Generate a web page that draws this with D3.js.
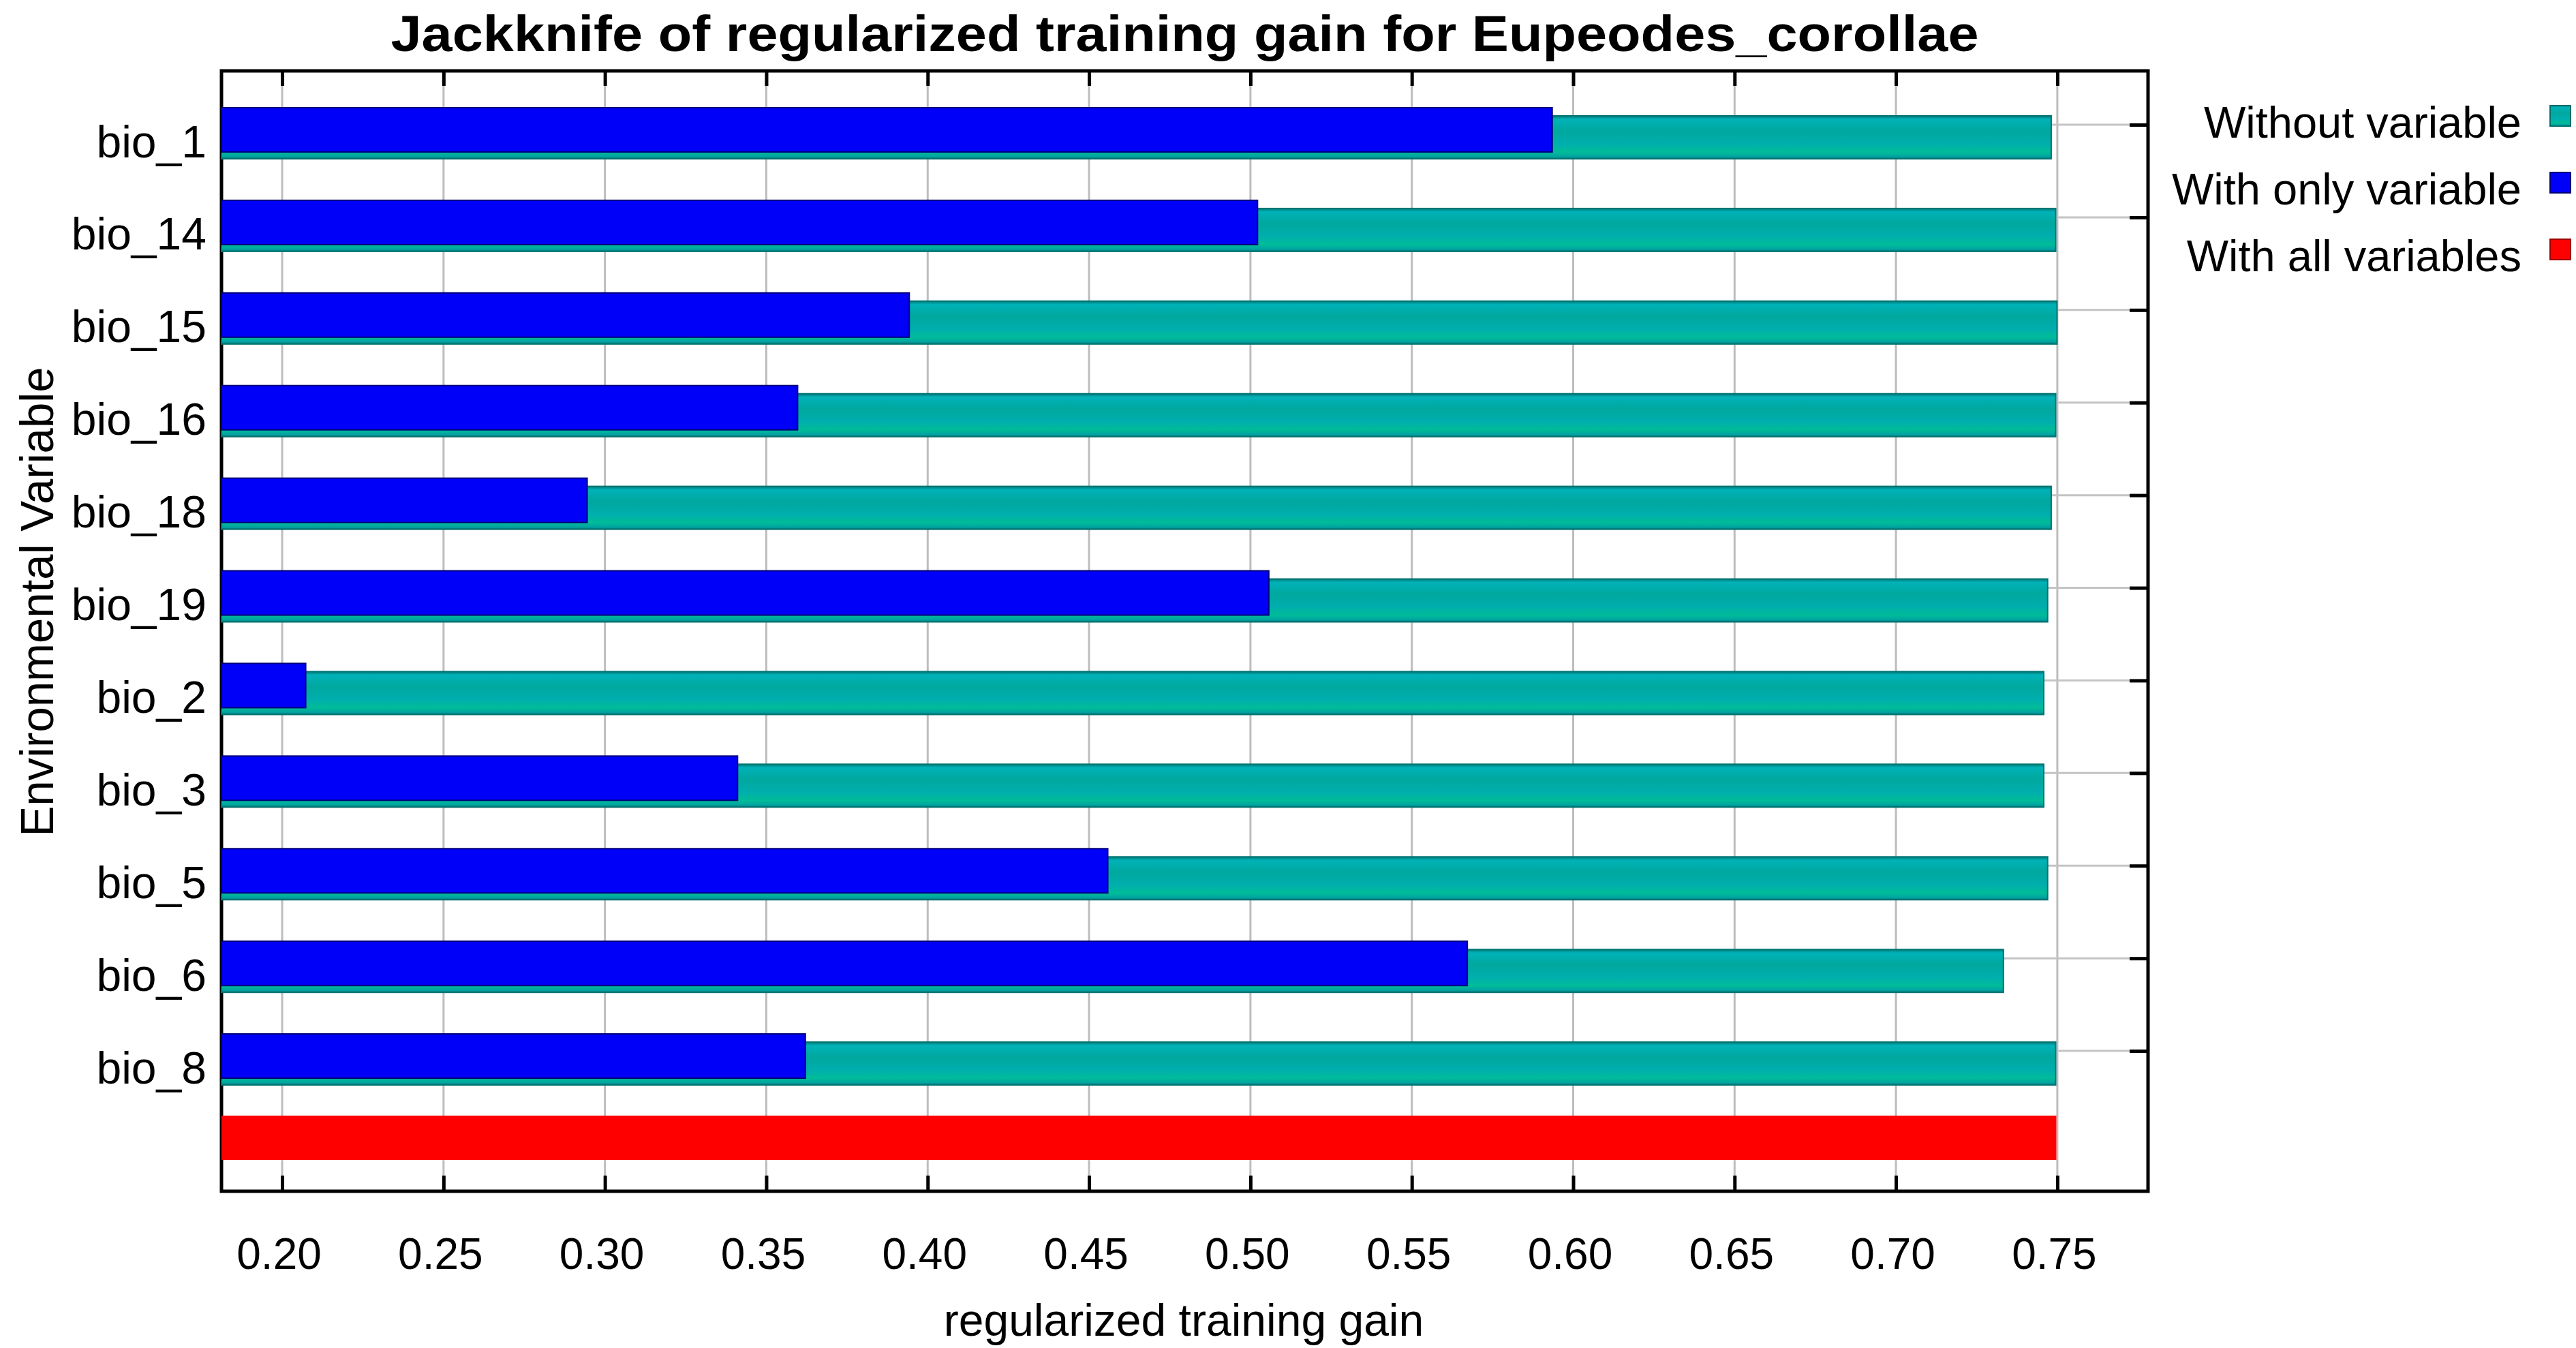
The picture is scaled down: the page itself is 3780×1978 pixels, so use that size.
<!DOCTYPE html>
<html>
<head>
<meta charset="utf-8">
<script src="https://cdn.jsdelivr.net/npm/d3@7"></script>
<style>
  body { margin: 0; background: #fff; }
  svg text { font-family: "Liberation Sans", Arial, sans-serif; fill: #000; }
</style>
</head>
<body>
<svg id="chart" width="3780" height="1978"></svg>
<script>
// values
var variables = ["bio_1", "bio_14", "bio_15", "bio_16", "bio_18", "bio_19", "bio_2", "bio_3", "bio_5", "bio_6", "bio_8"];
var withoutGain = [0.7481, 0.7495, 0.7499, 0.7495, 0.7481, 0.7470, 0.7458, 0.7458, 0.7470, 0.7333, 0.7495];
var onlyGain = [0.5935, 0.5022, 0.3943, 0.3597, 0.2945, 0.5057, 0.2073, 0.3411, 0.4558, 0.5672, 0.3621];
var allGain = 0.7497;
var xTicks = [0.20, 0.25, 0.30, 0.35, 0.40, 0.45, 0.50, 0.55, 0.60, 0.65, 0.70, 0.75];
var legendLabels = ["Without variable", "With only variable", "With all variables"];

function main() {
  var svg = d3.select("#chart");
  svg.append("rect").attr("width", 3780).attr("height", 1978).attr("fill", "#fff");

  var left = 325, right = 3152, top = 104, bottom = 1748;

  var x = d3.scaleLinear().domain([0.1812, 0.7781]).range([left, right]);
  var rows = variables.concat(["all"]);
  var y = d3.scalePoint().domain(rows).range([183, 1678]);

  var data = variables.map(function(v, i) {
    return { name: v, without: withoutGain[i], only: onlyGain[i] };
  });

  var defs = svg.append("defs");
  var grad = defs.append("linearGradient").attr("id", "teal").attr("x1", 0).attr("y1", 0).attr("x2", 0).attr("y2", 1);
  [[0, "#007a78"], [0.08, "#00b2b8"], [0.35, "#00a89e"], [0.65, "#00aeae"], [0.84, "#00bc98"], [0.95, "#00a4a2"], [1, "#007270"]].forEach(function(s) {
    grad.append("stop").attr("offset", s[0]).attr("stop-color", s[1]);
  });

  // title
  svg.append("text")
    .attr("x", (left + right) / 2).attr("y", 75)
    .attr("text-anchor", "middle")
    .style("font-size", "74px").style("font-weight", "bold")
    .attr("textLength", 2330).attr("lengthAdjust", "spacingAndGlyphs")
    .text("Jackknife of regularized training gain for Eupeodes_corollae");

  // grid lines
  svg.append("g").selectAll("line").data(xTicks).enter().append("line")
    .attr("x1", function(d) { return x(d); }).attr("x2", function(d) { return x(d); })
    .attr("y1", top).attr("y2", bottom)
    .attr("stroke", "#bdbdbd").attr("stroke-width", 3);

  svg.append("g").selectAll("line").data(variables).enter().append("line")
    .attr("x1", left).attr("x2", right)
    .attr("y1", function(d) { return y(d); }).attr("y2", function(d) { return y(d); })
    .attr("stroke", "#c4c4c4").attr("stroke-width", 3);

  // frame
  svg.append("rect")
    .attr("x", left).attr("y", top)
    .attr("width", right - left).attr("height", bottom - top)
    .attr("fill", "none").attr("stroke", "#000").attr("stroke-width", 5);

  // bars: without variable (behind), with only variable (front)
  svg.append("g").selectAll("rect").data(data).enter().append("rect")
    .attr("x", x.range()[0])
    .attr("y", function(d) { return y(d.name) - 13; })
    .attr("width", function(d) { return x(d.without) - x.range()[0]; })
    .attr("height", 63)
    .attr("fill", "url(#teal)")
    .attr("stroke", "#007472").attr("stroke-width", 2);

  svg.append("g").selectAll("rect").data(data).enter().append("rect")
    .attr("x", x.range()[0])
    .attr("y", function(d) { return y(d.name) - 25; })
    .attr("width", function(d) { return x(d.only) - x.range()[0]; })
    .attr("height", 65)
    .attr("fill", "#0000f8")
    .attr("stroke", "#00007a").attr("stroke-width", 2);

  svg.append("rect")
    .attr("x", x.range()[0])
    .attr("y", y("all") - 41)
    .attr("width", x(allGain) - x.range()[0])
    .attr("height", 65)
    .attr("fill", "#ff0000");

  // x axis
  var xAxis = svg.append("g")
    .attr("transform", "translate(0," + bottom + ")")
    .call(d3.axisBottom(x).tickValues(xTicks).tickFormat(d3.format(".2f")).tickSize(-23));
  xAxis.select(".domain").remove();
  xAxis.selectAll(".tick line").attr("stroke", "#000").attr("stroke-width", 5);
  xAxis.selectAll("text").attr("y", 114).attr("dy", null).attr("dx", -5).style("font-size", "64px");

  var xTop = svg.append("g")
    .attr("transform", "translate(0," + top + ")")
    .call(d3.axisTop(x).tickValues(xTicks).tickFormat("").tickSize(-22));
  xTop.select(".domain").remove();
  xTop.selectAll(".tick line").attr("stroke", "#000").attr("stroke-width", 5);

  // y axis labels and right ticks
  var yAxis = svg.append("g")
    .attr("transform", "translate(" + left + ",0)")
    .call(d3.axisLeft(y).tickValues(variables).tickSize(0).tickPadding(22));
  yAxis.select(".domain").remove();
  yAxis.selectAll("text").attr("y", 47).attr("dy", null).style("font-size", "66px");

  var yRight = svg.append("g")
    .attr("transform", "translate(" + right + ",0)")
    .call(d3.axisRight(y).tickValues(variables).tickFormat("").tickSize(-27));
  yRight.select(".domain").remove();
  yRight.selectAll(".tick line").attr("stroke", "#000").attr("stroke-width", 5);

  // axis titles
  svg.append("text")
    .attr("x", 1737).attr("y", 1960)
    .attr("text-anchor", "middle")
    .style("font-size", "66px")
    .text("regularized training gain");

  svg.append("text")
    .attr("transform", "translate(78,883) rotate(-90)")
    .attr("text-anchor", "middle")
    .style("font-size", "68px")
    .attr("textLength", 689).attr("lengthAdjust", "spacingAndGlyphs")
    .text("Environmental Variable");

  // legend
  var legendColors = ["url(#teal)", "#0000f8", "#ff0000"];
  var legendStroke = ["#006e6c", "#00007a", "#a00000"];
  var legend = svg.append("g").selectAll("g").data(legendLabels).enter().append("g")
    .attr("transform", function(d, i) { return "translate(0," + (202 + i * 98) + ")"; });
  legend.append("text")
    .attr("x", 3700).attr("y", 0)
    .attr("text-anchor", "end")
    .style("font-size", "65px")
    .text(function(d) { return d; });
  legend.append("rect")
    .attr("x", 3742).attr("y", -47)
    .attr("width", 30).attr("height", 30)
    .attr("fill", function(d, i) { return legendColors[i]; })
    .attr("stroke", function(d, i) { return legendStroke[i]; })
    .attr("stroke-width", 2);
}
main();
</script>
</body>
</html>
